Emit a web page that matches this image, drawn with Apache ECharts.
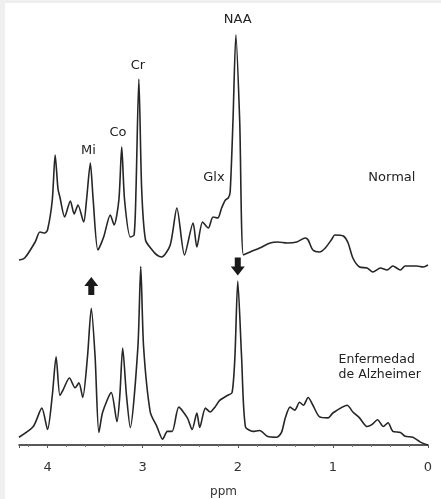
<!DOCTYPE html>
<html><head><meta charset="utf-8">
<script src="https://cdn.jsdelivr.net/npm/echarts@6/dist/echarts.min.js"></script>
<style>html,body{margin:0;padding:0;background:#efefef}#c{width:441px;height:499px}</style>
</head><body><div id="c"></div>
<script>
// Normal spectrum: chemical shift (ppm) and intensity (arbitrary units)
const normalPpm = [4.30,4.24,4.13,4.08,4.03,4.00,3.95,3.92,3.89,3.87,3.82,3.76,3.72,3.68,3.62,3.59,3.55,3.52,3.47,3.41,3.34,3.30,3.25,3.22,3.19,3.13,3.09,3.07,3.04,3.01,2.97,2.90,2.85,2.80,2.71,2.64,2.56,2.47,2.43,2.37,2.31,2.26,2.21,2.17,2.13,2.10,2.08,2.05,2.02,1.98,1.94,1.87,1.77,1.66,1.58,1.48,1.38,1.29,1.26,1.21,1.14,1.08,1.01,0.98,0.89,0.84,0.79,0.72,0.64,0.58,0.50,0.43,0.37,0.29,0.24,0.12,0.05,0.00];
const normalInt = [10.5,11.5,19.5,24.5,24,25.5,40.5,63,46,42,32,40,33.5,38,29.5,40.5,59,40.5,15.5,22,33,28,40.5,67,40.5,22,23,45.5,101,45.5,20.5,15.5,13,12,18,36.5,13,29,17,29.5,26.5,32,31.5,36.5,40.5,41.5,44.5,80.5,123,80.5,13,14.5,16.5,19,19.5,19,19.5,21.5,20.5,15.5,14.5,16.5,21,23,22.5,19,11.5,7,6.5,4.5,6.5,5.5,7.5,5.5,7.5,7.5,7,8];
// Alzheimer's disease spectrum
const adPpm = [4.30,4.15,4.06,4.00,3.95,3.91,3.87,3.84,3.77,3.71,3.67,3.63,3.58,3.54,3.50,3.46,3.42,3.33,3.27,3.24,3.21,3.17,3.13,3.05,3.02,2.99,2.92,2.85,2.79,2.74,2.69,2.62,2.53,2.48,2.43,2.40,2.34,2.29,2.24,2.19,2.11,2.06,2.03,2.00,1.96,1.92,1.84,1.77,1.69,1.59,1.54,1.50,1.45,1.40,1.35,1.31,1.26,1.21,1.14,1.05,1.00,0.85,0.79,0.72,0.64,0.59,0.53,0.47,0.42,0.37,0.29,0.24,0.16,0.08,0.00];
const adInt = [4,9.5,19,8,25.5,45.5,25.5,28,34.5,29.5,32,24.5,45.5,70.5,45.5,6.5,17,27,12,25.5,50,25.5,9,50.5,92,50.5,17,9.5,3,7,7,19.5,14,8,16.5,9,19,17,19.5,23,25.5,27,45.5,84.5,45.5,9.5,7,7.5,4.5,4,6.5,14,19.5,18,22,20.5,24.5,20.5,14.5,14,16.5,20.5,17,14,9.5,10.5,13,9.5,11.5,7,6.5,4.5,4,1.5,0];
// Axis
const ppmTicks = [0,1,2,3,4];
const axisTitle = 'ppm';
// Annotations
const peakLabelText = ['NAA','Cr','Co','Mi','Glx'];
const peakLabelPpm = [2.00, 3.05, 3.26, 3.57, 2.25];
const peakLabelY = [130.5, 107.5, 74, 65, 51.5];
const groupNormal = 'Normal';
const groupAD = ['Enfermedad','de Alzheimer'];

const toPairs = (xs, ys) => xs.map((x,i)=>[x, ys[i]]);
const lineStyle = {color:'#262626', width:1.6};
const font = 'DejaVu Sans';
const hidden = {color:'rgba(0,0,0,0)'};

const upArrow = 'path://M7,0 L14,9 L10,9 L10,18 L4,18 L4,9 L0,9 Z';
const downArrow = 'path://M4,0 L10,0 L10,9 L14,9 L7,18 L0,9 L4,9 Z';

const textLabel = (coord, text, extra) => ({
  coord, value:text, symbol:'circle', symbolSize:2, itemStyle:hidden,
  label:Object.assign({show:true, position:'inside', formatter:text,
    fontFamily:font, fontSize:13, color:'#222'}, extra||{})
});

const chart = echarts.init(document.getElementById('c'), null, {renderer:'canvas'});
chart.setOption({
  backgroundColor:'#efefef',
  animation:false,
  graphic:[{type:'rect', left:5, top:3, shape:{width:436, height:496}, style:{fill:'#ffffff'}, z:-10}],
  grid:[
    {left:19, right:13, top:19, height:262},
    {left:19, right:13, top:251, height:200}
  ],
  xAxis:[
    {gridIndex:0, type:'value', min:0, max:4.3, inverse:true, show:false},
    {gridIndex:1, type:'value', min:0, max:4.3, inverse:true, interval:1,
     name:axisTitle, nameLocation:'middle', nameGap:41,
     nameTextStyle:{fontFamily:font, fontSize:12, color:'#333'},
     axisLine:{lineStyle:{color:'#222', width:1.5}},
     axisTick:{show:true, length:3, lineStyle:{color:'#555', width:1}},
     minorTick:{show:true, splitNumber:5, length:2, lineStyle:{color:'#777'}},
     splitLine:{show:false},
     axisLabel:{margin:16, fontFamily:font, fontSize:13, color:'#333',
       showMaxLabel:false,
       formatter:v => ppmTicks.includes(Math.round(v*100)/100) ? String(Math.round(v)) : ''}}
  ],
  yAxis:[
    {gridIndex:0, type:'value', min:0, max:131, show:false},
    {gridIndex:1, type:'value', min:0, max:100, show:false}
  ],
  series:[
    {type:'line', xAxisIndex:0, yAxisIndex:0, data:toPairs(normalPpm, normalInt),
     showSymbol:false, smooth:0.25, lineStyle:lineStyle,
     markPoint:{silent:true,
       data:peakLabelText.map((t,i)=>textLabel([peakLabelPpm[i], peakLabelY[i]], t))
         .concat([textLabel([0.38,51.5], groupNormal)])
     }},
    {type:'line', xAxisIndex:1, yAxisIndex:1, data:toPairs(adPpm, adInt),
     showSymbol:false, smooth:0.25, lineStyle:lineStyle,
     markPoint:{silent:true,
       data:[
         {coord:[3.54,82], symbol:upArrow, symbolSize:[14,18], itemStyle:{color:'#1a1a1a'}, label:{show:false}},
         {coord:[2.00,92], symbol:downArrow, symbolSize:[14,18], itemStyle:{color:'#1a1a1a'}, label:{show:false}},
         textLabel([0.94,40], groupAD.join('\n'), {fontSize:12.5, lineHeight:15, align:'left'})
       ]}}
  ]
});
</script></body></html>
